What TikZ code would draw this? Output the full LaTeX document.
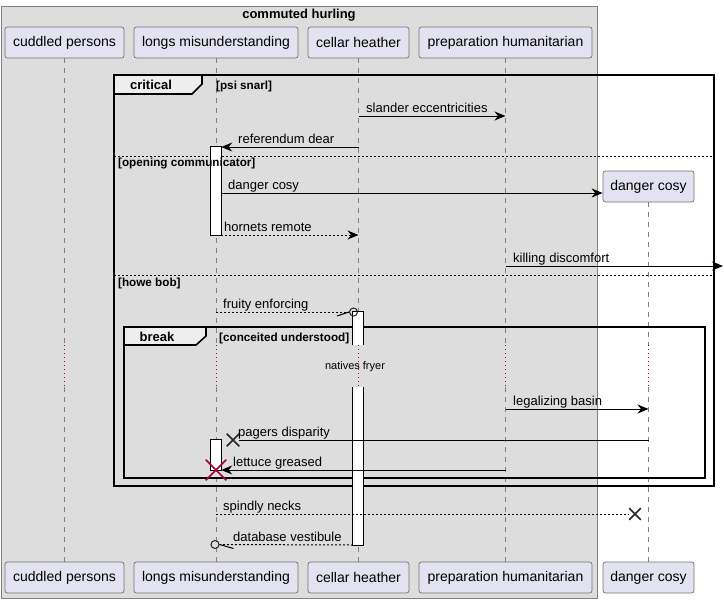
\documentclass[tikz,border=0pt]{standalone}
\usepackage{fontspec}
\setmainfont{Liberation Sans}
\usetikzlibrary{arrows.meta,shapes.misc}
\definecolor{partfill}{HTML}{E2E2F0}
\definecolor{boxfill}{HTML}{DDDDDD}
\definecolor{tabfill}{HTML}{EEEEEE}
\definecolor{crimson}{HTML}{A80036}

\tikzset{
  participant/.style={draw=black!55, fill=partfill, rounded corners=2.5pt, line width=0.7pt,
    minimum height=31pt, inner sep=0pt, font=\fontsize{14}{16}\selectfont},
  lifeline/.style={draw=black!50, line width=0.8pt, dash pattern=on 5pt off 5pt},
  delayline/.style={draw=crimson, line width=1pt, dash pattern=on 1pt off 3pt},
  msg/.style={line width=1pt, -{Stealth[length=11pt,width=9pt,inset=3.5pt]}},
  reply/.style={msg, dash pattern=on 2pt off 2pt},
  plainmsg/.style={line width=1pt},
  dottedmsg/.style={line width=1pt, dash pattern=on 2pt off 2pt},
  msgtext/.style={anchor=base west, inner sep=0pt, font=\fontsize{13}{15}\selectfont},
  activation/.style={fill=white, inner sep=0pt, minimum width=10pt},
  actedge/.style={draw=black, line width=1pt},
  frame/.style={draw=black, line width=1.6pt},
  tab/.style={draw=black, fill=tabfill, line width=1.6pt},
  grouplabel/.style={font=\bfseries\fontsize{13}{15}\selectfont, inner sep=0pt},
  guard/.style={anchor=base west, inner sep=0pt, font=\bfseries\fontsize{11.7}{13}\selectfont},
  separator/.style={line width=0.9pt, dash pattern=on 2pt off 2pt},
  lostcross/.style={cross out, draw=black!85, line width=1.6pt, minimum size=10pt, inner sep=0pt},
  endcircle/.style={circle, draw=black!85, line width=1pt, minimum size=8pt, inner sep=0pt},
}

\begin{document}
\begin{tikzpicture}[x=1pt,y=-1pt]
\useasboundingbox (0,0) rectangle (724,603);

% participant box
\draw[fill=boxfill, draw=black!50, line width=1pt] (1,6) rectangle (597,598);
\node[font=\bfseries\fontsize{13}{15}\selectfont] (boxtitle) at (299,15) {commuted hurling};

% participants, top and bottom
\node[participant, minimum width=119pt] (pc) at (64.5,42.5) {cuddled persons};
\node[participant, minimum width=164pt] (pl) at (216,42.5) {longs misunderstanding};
\node[participant, minimum width=101pt] (ph) at (358.5,42.5) {cellar heather};
\node[participant, minimum width=173pt] (pp) at (505.5,42.5) {preparation humanitarian};
\node[participant, minimum width=91pt]  (pd) at (648.5,186.5) {danger cosy};

\node[participant, minimum width=119pt] (bc) at (64.5,577.5) {cuddled persons};
\node[participant, minimum width=164pt] (bl) at (216,577.5) {longs misunderstanding};
\node[participant, minimum width=101pt] (bh) at (358.5,577.5) {cellar heather};
\node[participant, minimum width=173pt] (bp) at (505.5,577.5) {preparation humanitarian};
\node[participant, minimum width=91pt]  (bd) at (648.5,577.5) {danger cosy};

% lifelines, with the delay section
\foreach \p in {c,l,h,p,d} {
  \draw[lifeline] (p\p) -- (p\p |- 0,345);
  \draw[delayline] (p\p |- 0,345) -- (p\p |- 0,387);
  \draw[lifeline] (p\p |- 0,387) -- (b\p);
}

% critical group
\draw[frame] (114,75) rectangle (714,486);
\draw[tab] (114,75) -- (202,75) -- (202,84) -- (192,94) -- (114,94) -- cycle;
\node[grouplabel] (crit) at (151,85) {critical};
\draw[separator] (114,156) -- (714,156);
\draw[separator] (114,275) -- (714,275);

% break group
\draw[frame] (124,327) rectangle (705,478);
\draw[tab] (124,327) -- (206,327) -- (206,336) -- (196,345) -- (124,345) -- cycle;
\node[grouplabel] (brk) at (157,337) {break};

% activations
\node[activation, minimum height=88pt] (a1) at (216,191) {};
\draw[actedge] (a1.south west) rectangle (a1.north east);
\node[activation, minimum height=33pt] (a2) at (358,328.5) {};
\draw[actedge] (a2.south west) -- (a2.north west) -- (a2.north east) -- (a2.south east);
\node[activation, minimum height=158pt] (a2b) at (358,466) {};
\draw[actedge] (a2b.north west) -- (a2b.south west) -- (a2b.south east) -- (a2b.north east);
\node[activation, minimum height=30pt] (a3) at (216,455) {};
\draw[actedge] (a3.south west) rectangle (a3.north east);

% group guards
\node[guard] (critguard) at (216,89.5) {[psi snarl]};
\node[guard] (elseone) at (118,166.5) {[opening communicator]};
\node[guard] (elsetwo) at (118,286.5) {[howe bob]};
\node[guard] (brkguard) at (219,341) {[conceited understood]};

% delay
\node[inner sep=0pt, font=\fontsize{11}{13}\selectfont] (delay) at (355,367) {natives fryer};

% messages
\draw[msg] (ph |- 0,116) -- (pp |- 0,116);
\node[msgtext] (m1) at (366,112) {slander eccentricities};

\draw[msg] (ph |- 0,147) -- (a1.east |- 0,147);
\node[msgtext] (m2) at (238,143) {referendum dear};

\draw[msg] (a1.east |- 0,193) -- (pd.west |- 0,193);
\node[msgtext] (m3) at (228,189) {danger cosy};

\draw[reply] (a1.east |- 0,235) -- (ph |- 0,235);
\node[msgtext] (m4) at (224,231) {hornets remote};

\coordinate (outside) at (723,266);
\draw[msg] (pp |- 0,266) -- (outside);
\node[msgtext] (m5) at (513,262) {killing discomfort};

\node[endcircle] (o1) at (353.5,312) {};
\draw[dottedmsg] (pl |- 0,312) -- (o1.west);
\draw[line width=1pt] (o1.west) -- ++(-12,4);
\node[msgtext] (m6) at (223,308) {fruity enforcing};

\draw[msg] (pp |- 0,409) -- (pd |- 0,409);
\node[msgtext] (m7) at (513,405) {legalizing basin};

\node[lostcross, minimum size=11pt] (x1) at (233,440) {};
\draw[plainmsg] (pd |- 0,440) -- (x1.east);
\node[msgtext] (m8) at (238,436) {pagers disparity};

\draw[msg] (pp |- 0,470) -- (a3.east |- 0,470);
\node[msgtext] (m9) at (233,466) {lettuce greased};
\node[cross out, draw=crimson, line width=1.6pt, minimum size=19pt, inner sep=0pt] (kill) at (216,470) {};

\node[lostcross] (x2) at (635,514) {};
\draw[dottedmsg] (pl |- 0,514) -- (x2.west);
\node[msgtext] (m10) at (223,510) {spindly necks};

\node[endcircle] (o2) at (215,544.5) {};
\draw[dottedmsg] (a2b.west |- 0,545) -- (o2.east);
\draw[line width=1pt] (o2.east) -- ++(14,4);
\node[msgtext] (m11) at (233,541) {database vestibule};
\end{tikzpicture}
\end{document}
